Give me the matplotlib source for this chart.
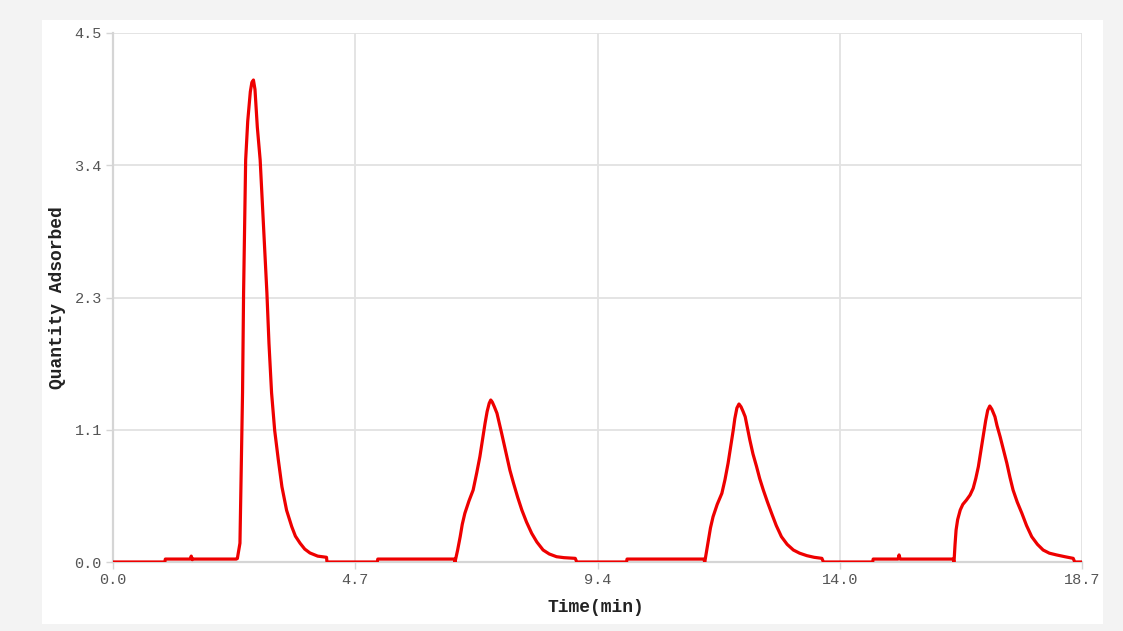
import numpy as np
import matplotlib.pyplot as plt
from matplotlib.patches import Rectangle

# Odectene body z grafu: cas (min) a adsorbovane mnozstvi, po usecich
base1_t = [0.0, 1.00, 1.01, 1.49, 1.51, 1.53, 1.55, 2.38, 2.40]
base1_q = [0.0, 0.0, 0.025, 0.025, 0.05, 0.02, 0.025, 0.025, 0.03]

peak1_t = [2.45, 2.50, 2.52, 2.56, 2.60, 2.65, 2.68, 2.71, 2.74, 2.785, 2.84, 2.90, 2.97,
           3.01, 3.06, 3.12, 3.19, 3.26, 3.35, 3.45, 3.52, 3.61, 3.70, 3.80, 3.95, 4.12, 4.13]
peak1_q = [0.16, 1.44, 2.29, 3.42, 3.75, 4.0, 4.08, 4.10, 4.02, 3.70, 3.42, 2.90, 2.29,
           1.86, 1.44, 1.12, 0.87, 0.64, 0.44, 0.30, 0.22, 0.16, 0.11, 0.077, 0.05, 0.04, 0.0]

base2_t = [5.10, 5.11, 6.59]
base2_q = [0.0, 0.025, 0.025]

peak2_t = [6.60, 6.65, 6.70, 6.74, 6.79, 6.87, 6.95, 7.02, 7.08, 7.13, 7.18, 7.22, 7.26, 7.29,
           7.32, 7.36, 7.41, 7.50, 7.60, 7.66, 7.73, 7.81, 7.89, 7.98, 8.08, 8.18, 8.30, 8.42,
           8.56, 8.70, 8.92, 8.95]
peak2_q = [0.0, 0.10, 0.215, 0.32, 0.414, 0.52, 0.612, 0.76, 0.896, 1.04, 1.18, 1.28, 1.35, 1.378,
           1.36, 1.32, 1.265, 1.095, 0.896, 0.78, 0.669, 0.55, 0.442, 0.34, 0.244, 0.17, 0.102, 0.068,
           0.045, 0.037, 0.031, 0.0]

base3_t = [9.91, 9.92, 11.40]
base3_q = [0.0, 0.025, 0.025]

peak3_t = [11.42, 11.45, 11.49, 11.53, 11.58, 11.66, 11.75, 11.81, 11.87, 11.92, 11.97, 12.00,
           12.04, 12.08, 12.12, 12.16, 12.20, 12.29, 12.35, 12.42, 12.48, 12.55, 12.63, 12.71,
           12.80, 12.90, 13.01, 13.13, 13.25, 13.39, 13.53, 13.68, 13.71]
peak3_q = [0.0, 0.08, 0.187, 0.29, 0.385, 0.49, 0.584, 0.70, 0.84, 0.98, 1.123, 1.22,
           1.31, 1.344, 1.32, 1.28, 1.236, 1.038, 0.92, 0.811, 0.71, 0.612, 0.51, 0.414,
           0.31, 0.215, 0.15, 0.102, 0.075, 0.054, 0.04, 0.031, 0.0]

base4_t = [14.66, 14.67, 15.15, 15.17, 15.19, 16.21]
base4_q = [0.0, 0.025, 0.025, 0.06, 0.025, 0.025]

peak4_t = [16.23, 16.25, 16.27, 16.30, 16.35, 16.40, 16.47, 16.54, 16.60, 16.65, 16.70, 16.75,
           16.80, 16.84, 16.88, 16.92, 16.96, 17.02, 17.06, 17.12, 17.18, 17.25, 17.31, 17.37,
           17.45, 17.54, 17.63, 17.73, 17.84, 17.95, 18.07, 18.21, 18.37, 18.53, 18.56, 18.70]
peak4_q = [0.0, 0.15, 0.272, 0.36, 0.442, 0.49, 0.527, 0.57, 0.627, 0.71, 0.811, 0.95,
           1.095, 1.20, 1.29, 1.327, 1.30, 1.236, 1.16, 1.066, 0.96, 0.84, 0.72, 0.612,
           0.51, 0.414, 0.31, 0.215, 0.15, 0.102, 0.075, 0.06, 0.045, 0.031, 0.0, 0.0]

x_ticks = np.linspace(0, 18.7, 5)
x_labels = ['0.0', '4.7', '9.4', '14.0', '18.7']
y_ticks = np.linspace(0, 4.5, 5)
y_labels = ['0.0', '1.1', '2.3', '3.4', '4.5']

time = base1_t + peak1_t + base2_t + peak2_t + base3_t + peak3_t + base4_t + peak4_t
quantity = base1_q + peak1_q + base2_q + peak2_q + base3_q + peak3_q + base4_q + peak4_q

fig = plt.figure(figsize=(11.23, 6.31), dpi=100, facecolor='#f3f3f3')
# bily panel za grafem
fig.patches.append(Rectangle((42 / 1123, 1 - 624 / 631), (1103 - 42) / 1123, (624 - 20) / 631,
                             transform=fig.transFigure, facecolor='white', edgecolor='none', zorder=-10))

ax = fig.add_axes([113 / 1123, 1 - 562 / 631, 969 / 1123, 529 / 631])
ax.set_facecolor('white')
ax.plot(time, quantity, color='#ee0000', linewidth=2.3, solid_joinstyle='round',
        solid_capstyle='round', zorder=3)

ax.set_xlim(0, 18.7)
ax.set_ylim(0, 4.5)
ax.set_xticks(x_ticks)
ax.set_xticklabels(x_labels)
ax.set_yticks(y_ticks)
ax.set_yticklabels(y_labels)
ax.grid(True, color='#e2e2e2', linewidth=1.3)
ax.set_axisbelow(True)

for s in ['top', 'right']:
    ax.spines[s].set_visible(False)
for s in ['left', 'bottom']:
    ax.spines[s].set_color('#d5d5d5')
    ax.spines[s].set_linewidth(1.6)

ax.tick_params(length=5, width=1, color='#d5d5d5', labelcolor='#555555', labelsize=11, pad=3)
for lab in ax.get_xticklabels() + ax.get_yticklabels():
    lab.set_family('Liberation Mono')

ax.set_xlabel('Time(min)', family='Liberation Mono', fontweight='bold', fontsize=13, color='#222222')
ax.set_ylabel('Quantity Adsorbed', family='Liberation Mono', fontweight='bold', fontsize=13, color='#222222')
ax.xaxis.set_label_coords(0.4985, -0.070)
ax.yaxis.set_label_coords(-0.0485, 0.5)

fig.savefig('out.png', dpi=100, facecolor=fig.get_facecolor())
